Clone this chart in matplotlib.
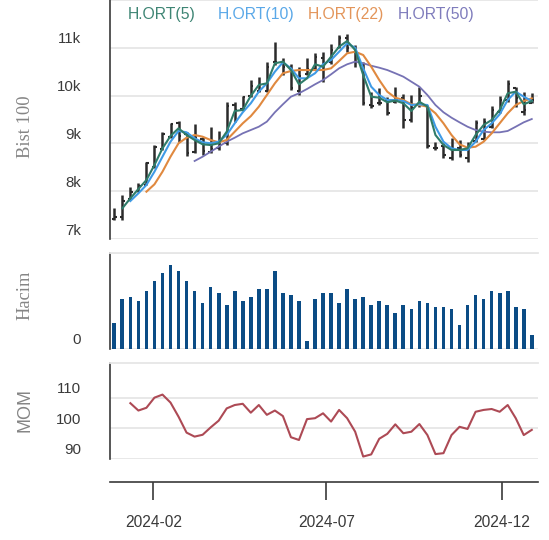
import matplotlib
matplotlib.use("Agg")
import matplotlib.pyplot as plt
import matplotlib.dates as mdates
from matplotlib.transforms import ScaledTranslation
import numpy as np
import pandas as pd

plt.rcParams['font.family'] = ['Liberation Sans', 'DejaVu Sans']

# --- dati settimanali ---
dates = pd.date_range("2023-12-29", periods=53, freq="W-FRI")

opens = [7420, 7460, 7840, 8010, 8140, 8500, 8880, 9130, 9420, 9200, 8820, 9100, 8830, 8900,
         9000, 9800, 9720, 10000, 10100, 10100, 10700, 10700, 10600, 10100, 10450, 10560, 10780,
         10700, 11000, 11200, 11000, 10650, 9800, 9850, 9900, 9870, 9950, 9500, 9800, 9780,
         8900, 8950, 8700, 8900, 8700, 9050, 9100, 9350, 9650, 9900, 10150, 9650, 9850]
highs = [7640, 7920, 8090, 8170, 8620, 8970, 9240, 9435, 9475, 9240, 9400, 9140, 9350, 9260,
         9866, 9866, 9998, 10326, 10395, 10696, 11130, 10786, 10661, 10607, 10786, 10890, 10920,
         11070, 11268, 11283, 11058, 10711, 10081, 10153, 9977, 10188, 10028, 10013, 10188, 9803,
         9036, 9002, 9106, 9071, 9036, 9490, 9525, 9788, 9998, 10326, 10188, 10081, 10046]
lows = [7390, 7400, 7816, 7990, 8130, 8485, 8862, 9110, 9035, 8740, 8800, 8757, 8800, 8860,
        8967, 9455, 9700, 9977, 10081, 10081, 10642, 10430, 10117, 10013, 10430, 10535, 10293,
        10670, 10990, 10920, 10607, 9803, 9733, 9803, 9594, 9838, 9317, 9455, 9769, 8898,
        8862, 8704, 8654, 8723, 8619, 9036, 9071, 9317, 9630, 9873, 9769, 9594, 9838]
closes = [7470, 7800, 7990, 8100, 8580, 8920, 9200, 9400, 9150, 8800, 9120, 8850, 8880, 8960,
          9780, 9700, 9980, 10200, 10100, 10600, 10700, 10600, 10150, 10400, 10550, 10800, 10650,
          10950, 11200, 11000, 10700, 9850, 9780, 9850, 9640, 9900, 9500, 9750, 10000, 8950,
          8900, 8750, 8880, 8750, 8900, 9420, 9450, 9700, 9900, 10250, 9950, 9700, 9900]

nan = np.nan
ma5 = [nan, 7642, 7851, 8046, 8234, 8548, 8897, 9155, 9316, 9176, 9071, 8981, 8966, 9002,
       9245, 9678, 9699, 9995, 10222, 10257, 10676, 10710, 10535, 10236, 10362, 10655, 10605,
       10814, 11023, 11142, 10954, 10431, 9977, 9956, 9860, 9897, 9839, 9678, 9872, 9768,
       9176, 8966, 8862, 8862, 8897, 9176, 9385, 9490, 9699, 10048, 10082, 9818, 9887]
ma10 = [nan, nan, 7795, 7956, 8130, 8408, 8722, 9036, 9260, 9232, 9107, 9023, 9002, 9036,
        9176, 9420, 9651, 9839, 10082, 10257, 10500, 10697, 10571, 10362, 10362, 10467, 10655,
        10745, 10918, 11094, 11002, 10571, 10186, 10012, 9908, 9908, 9887, 9803, 9818, 9803,
        9349, 9036, 8897, 8862, 8862, 9036, 9280, 9420, 9609, 9908, 10082, 9977, 9887]
ma22 = [nan, nan, nan, nan, 7990, 8144, 8408, 8722, 9002, 9119, 9176, 9140, 9071, 9023,
        9071, 9245, 9420, 9570, 9768, 10012, 10257, 10467, 10515, 10535, 10535, 10535, 10535,
        10571, 10724, 10885, 10918, 10849, 10605, 10326, 10082, 9956, 9908, 9818, 9803, 9768,
        9630, 9420, 9176, 8981, 8910, 8931, 9036, 9211, 9420, 9630, 9803, 9887, 9943]
ma50 = [nan] * 10 + [8632, 8722, 8826, 8931, 9036, 9119, 9211, 9280, 9349, 9455, 9651, 9818,
        9977, 10048, 10138, 10236, 10326, 10445, 10571, 10655, 10710, 10676, 10625, 10584, 10535,
        10467, 10396, 10291, 10186, 10012, 9803, 9651, 9538, 9441, 9349, 9280, 9245, 9232, 9232,
        9260, 9349, 9441, 9510]

volume = [26.8, 52.3, 54.4, 50.2, 60.6, 71.1, 79.4, 87.8, 81.5, 71.1, 60.6, 48.1, 64.8, 58.5,
          46.0, 60.6, 50.2, 54.4, 62.7, 62.7, 81.5, 58.5, 56.4, 50.2, 8.4, 52.3, 58.5, 58.5,
          48.1, 62.7, 52.3, 54.4, 46.0, 50.2, 46.0, 37.6, 46.0, 41.8, 50.2, 48.1, 43.9, 43.9,
          41.8, 25.1, 46.0, 56.4, 52.3, 60.6, 58.5, 60.6, 43.9, 41.8, 14.6]

mom = [nan, nan, 108.2, 105.8, 106.7, 110.0, 111.0, 108.4, 103.8, 98.6, 97.3, 97.9, 100.3,
       102.5, 106.5, 107.6, 108.0, 105.1, 107.6, 104.4, 105.8, 104.0, 97.1, 96.2, 103.0, 103.3,
       104.9, 102.2, 106.0, 103.3, 98.9, 90.8, 91.5, 96.6, 98.2, 101.3, 98.4, 98.9, 101.4,
       97.8, 91.6, 91.9, 97.8, 100.5, 99.8, 105.4, 106.0, 106.3, 105.4, 107.6, 103.3, 97.8, 99.5]

ma_labels = ["H.ORT(5)", "H.ORT(10)", "H.ORT(22)", "H.ORT(50)"]
ma_colors = ["#2f7c69", "#3f9be6", "#e0893f", "#7672b4"]
ma_text_colors = ["#3e8574", "#5aa8e8", "#e3955a", "#7f7cbc"]

# --- figura ---
W, H = 549, 540
fig = plt.figure(figsize=(W / 100, H / 100), dpi=100)
left, right = 110, 538
ax1 = fig.add_axes([left / W, 1 - 239 / H, (right - left) / W, 239 / H])
ax2 = fig.add_axes([left / W, 1 - 349 / H, (right - left) / W, 96 / H])
ax3 = fig.add_axes([left / W, 1 - 459 / H, (right - left) / W, 96 / H])

x = mdates.date2num(dates)
grid_c = "#e6e6e6"
spine_c = "#3a3a3a"
tick_c = "#3a3a3a"
xmin = mdates.date2num(pd.Timestamp("2023-12-25 06:00"))
xmax = mdates.date2num(pd.Timestamp("2025-01-01 10:00"))

# 1. OHLC + medie mobili
ax1.vlines(x, lows, highs, color="#2b2b2b", lw=1.8)
ax1.hlines(opens, x - 2.0, x, color="#2b2b2b", lw=1.5)
ax1.hlines(closes, x, x + 2.0, color="#2b2b2b", lw=1.5)
for vals, c, lw in zip([ma50, ma22, ma10, ma5], ma_colors[::-1], [1.3, 1.5, 1.5, 1.5]):
    ax1.plot(x, vals, color=c, lw=lw)
ax1.set_ylim(7000, 12000)
ax1.set_yticks([7000, 8000, 9000, 10000, 11000, 12000])
ax1.set_yticklabels(["7k", "8k", "9k", "10k", "11k", ""])
for i, (lab, c) in enumerate(zip(ma_labels, ma_text_colors)):
    ax1.text((127.3 - left + 90 * i) / (right - left), 1 - 15 / 239, lab, color=c,
             fontsize=11.3, ha="left", va="center", transform=ax1.transAxes)

# 2. Hacim
ax2.bar(x, volume, width=3.2, color="#0b4c85")
ax2.set_ylim(0, 100)
ax2.set_yticks([0, 100])
ax2.set_yticklabels(["0", ""])

# 3. Momentum
ax3.plot(x, mom, color="#ad4a55", lw=1.5)
ax3.set_ylim(90, 121.3)
ax3.set_yticks([90, 100, 110])

for ax in (ax1, ax2, ax3):
    ax.set_xlim(xmin, xmax)
    ax.grid(axis="y", color=grid_c, lw=1.3)
    ax.set_axisbelow(True)
    for s in ("right", "bottom", "top"):
        ax.spines[s].set_visible(False)
    ax.spines["left"].set_color(spine_c)
    ax.spines["left"].set_linewidth(1.2)
    ax.tick_params(axis="y", length=0, pad=21, labelsize=10.8, labelcolor=tick_c)
    for lab in ax.get_yticklabels():
        lab.set_transform(lab.get_transform() + ScaledTranslation(0, 0.10, fig.dpi_scale_trans))

for ax in (ax2, ax3):
    ax.spines["top"].set_visible(True)
    ax.spines["top"].set_color(grid_c)
    ax.spines["top"].set_linewidth(1.3)

ax1.tick_params(axis="x", bottom=False, labelbottom=False)
ax2.tick_params(axis="x", bottom=False, labelbottom=False)

ax3.spines["bottom"].set_visible(True)
ax3.spines["bottom"].set_position(("outward", 16.3))
ax3.spines["bottom"].set_color(spine_c)
ax3.spines["bottom"].set_linewidth(1.2)
ax3.set_xticks(mdates.date2num(pd.to_datetime(["2024-02-01", "2024-07-01", "2024-12-01"])))
ax3.xaxis.set_major_formatter(mdates.DateFormatter("%Y-%m"))
ax3.tick_params(axis="x", length=13.2, width=1.2, color=spine_c, pad=11,
                labelsize=11.2, labelcolor=tick_c)

# etichette asse y
label_c = "#858585"
ax1.set_ylabel("Bist 100", family="Liberation Serif", fontsize=13.3, color=label_c, va="center")
ax2.set_ylabel("Hacim", family="Liberation Serif", fontsize=13.3, color=label_c, va="center")
ax3.set_ylabel("MOM", fontsize=13, color=label_c, va="center")
lx = (25 - left) / (right - left)
ax1.yaxis.set_label_coords(lx, 1 - 127 / 239)
ax2.yaxis.set_label_coords(lx, (349 - 295) / 96)
ax3.yaxis.set_label_coords(lx, (459 - 410) / 96)

fig.savefig("out.png", dpi=100)
